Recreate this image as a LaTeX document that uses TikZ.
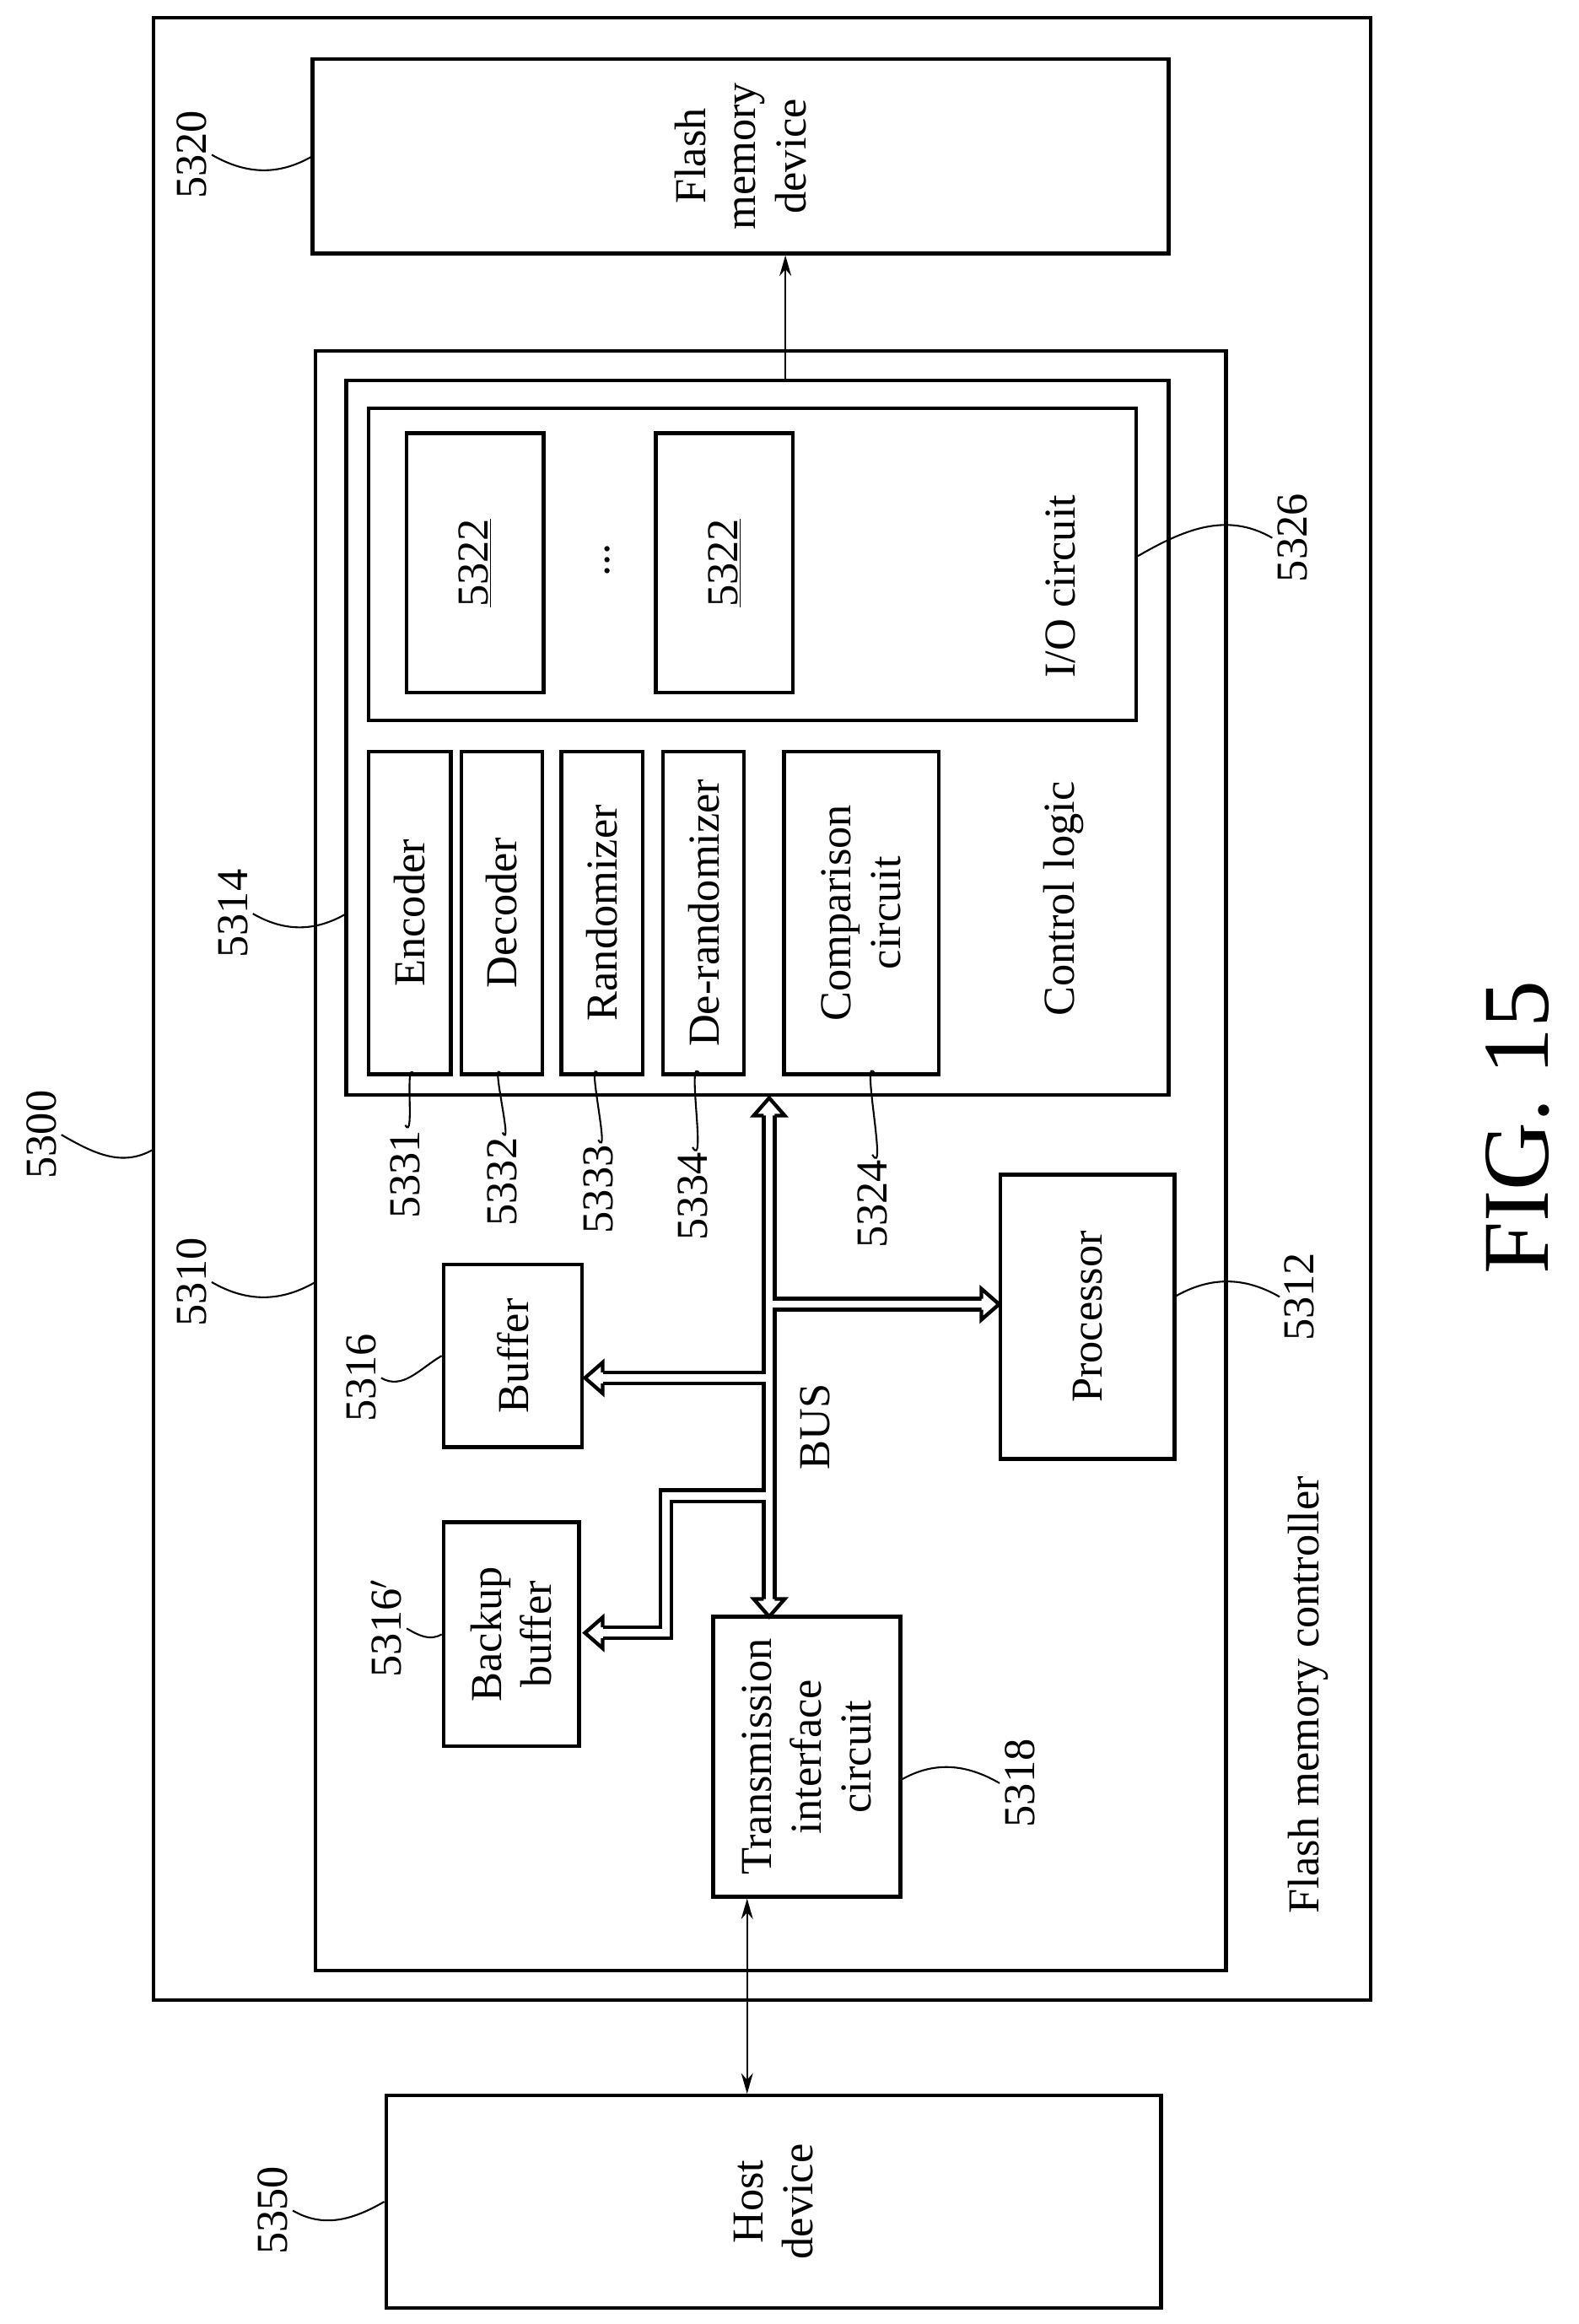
\documentclass[tikz,border=0pt]{standalone}
\usepackage{fontspec}
\setmainfont{Liberation Serif}
\usepackage{tikz}
\usetikzlibrary{arrows.meta}

\tikzset{
  lbl/.style={rotate=90, font=\fontsize{30}{34}\selectfont, align=center},
  box/.style={lbl, draw, line width=2.5pt, inner sep=0pt},
  num/.style={rotate=90, font=\fontsize{30}{34}\selectfont},
  lead/.style={line width=1.2pt},
}
% hollow bus head: tip (x,y), direction (dx,dy)
\newcommand{\bushead}[4]{%
  \fill[white] ({#1-12*#3-3.75*#4},{#2-12*#4+3.75*#3}) -- ({#1-12*#3-10.5*#4},{#2-12*#4+10.5*#3})
    -- (#1,#2) -- ({#1-12*#3+10.5*#4},{#2-12*#4-10.5*#3}) -- ({#1-12*#3+3.75*#4},{#2-12*#4-3.75*#3}) -- cycle;
  \draw[line width=2.5pt, line join=miter] ({#1-12*#3-3.75*#4},{#2-12*#4+3.75*#3}) -- ({#1-12*#3-10.5*#4},{#2-12*#4+10.5*#3})
    -- (#1,#2) -- ({#1-12*#3+10.5*#4},{#2-12*#4-10.5*#3}) -- ({#1-12*#3+3.75*#4},{#2-12*#4-3.75*#3});}

\begin{document}
\begin{tikzpicture}[x=1pt, y=-1pt]
    \useasboundingbox (0,0) rectangle (1071,1577);

    % Outer boxes
    \draw[line width=2.5pt] (104,12) rectangle (930,1357);
    \node[box, minimum width=132, minimum height=581] (flash) at (502.5,106) {Flash\\memory\\device};
    \node[box, minimum width=1099, minimum height=618] (ctrl) at (523,787.5) {};
    \node[box, minimum width=485, minimum height=558] (ctl) at (514,500.5) {};
    \node[box, minimum width=212, minimum height=521] (io) at (510.5,383) {};
    \node[box, minimum width=144, minimum height=526] (host) at (525,1494) {Host\\device};

    % I/O circuit
    \node[box, minimum width=176, minimum height=93] (p1) at (322.5,382) {\underline{5322}};
    \node[box, minimum width=176, minimum height=93] (p2) at (491.5,382) {\underline{5322}};
    \node[lbl] (dots) at (412,380) {...};
    \node[lbl] (iot) at (720,398) {I/O circuit};

    % Control logic blocks
    \node[box, minimum width=219, minimum height=56] (enc) at (278,619.5) {Encoder};
    \node[box, minimum width=219, minimum height=55] (dec) at (340.5,619.5) {Decoder};
    \node[box, minimum width=219, minimum height=55] (rnd) at (408.5,619.5) {Randomizer};
    \node[box, minimum width=219, minimum height=55] (der) at (477.5,619.5) {De-randomizer};
    \node[box, minimum width=219, minimum height=105] (cmp) at (584.5,619.5) {Comparison\\circuit};
    \node[lbl] (ctlt) at (722,610) {Control logic};

    % Controller blocks
    \node[box, minimum width=124, minimum height=94] (buf) at (348,920) {Buffer};
    \node[box, minimum width=152, minimum height=92] (bbuf) at (347,1109) {Backup\\buffer};
    \node[box, minimum width=193, minimum height=118] (proc) at (738,893.5) {Processor};
    \node[box, minimum width=190, minimum height=127] (trans) at (547.5,1192) {Transmission\\interface\\circuit};
    \node[lbl] (bus) at (553,968) {BUS};
    \node[lbl] (fmc) at (888,1150) {Flash memory controller};
    \node[rotate=90, font=\fontsize{64}{70}\selectfont] (fig) at (1030,765) {FIG. 15};

    % Bus
    \foreach \c in {black, white} {
        \ifx\c\empty\fi
    }
    \draw[line width=10pt] (522,757) -- (522,1085);
    \draw[line width=10pt] (522,935) -- (409,935);
    \draw[line width=10pt] (522,885) -- (666,885);
    \draw[line width=10pt, line join=miter] (522,1015) -- (452,1015) -- (452,1108) -- (409,1108);
    \draw[white, line width=5pt] (522,757) -- (522,1085);
    \draw[white, line width=5pt] (522,935) -- (409,935);
    \draw[white, line width=5pt] (522,885) -- (666,885);
    \draw[white, line width=5pt, line join=miter] (522,1015) -- (452,1015) -- (452,1108) -- (409,1108);
    \bushead{522}{745}{0}{-1}
    \bushead{522}{1097}{0}{1}
    \bushead{397}{935}{-1}{0}
    \bushead{397}{1108}{-1}{0}
    \bushead{678}{885}{1}{0}

    % Connectors
    \coordinate (iox) at (533,0);
    \coordinate (hx) at (507,0);
    \draw[line width=1.2pt, -{Stealth[length=14pt,width=8pt]}] (ctl.east -| iox) -- (flash.west -| iox);
    \draw[line width=1.2pt, {Stealth[length=14pt,width=8pt]}-{Stealth[length=14pt,width=8pt]}] (trans.west -| hx) -- (host.east -| hx);

    % Reference numbers
    \node[num] (n5320) at (130,105) {5320};
    \node[num] (n5300) at (28,770) {5300};
    \node[num] (n5310) at (130,870) {5310};
    \node[num] (n5314) at (158,620) {5314};
    \node[num] (n5316) at (245,935) {5316};
    \node[num] (n5316b) at (262,1105) {5316$'$};
    \node[num] (n5318) at (692,1210) {5318};
    \node[num] (n5312) at (882,880) {5312};
    \node[num] (n5326) at (877,365) {5326};
    \node[num] (n5331) at (275,797) {5331};
    \node[num] (n5332) at (341,802) {5332};
    \node[num] (n5333) at (406,807) {5333};
    \node[num] (n5334) at (470,812) {5334};
    \node[num] (n5324) at (592,817) {5324};
    \node[num] (n5350) at (185,1500) {5350};

    % Leaders
    \draw[lead] (n5320.south) to[out=-30,in=210] (flash.north -| 212,0);
    \draw[lead] (n5300.south) to[out=-30,in=210] (104,780);
    \draw[lead] (n5310.south) to[out=-30,in=210] (214,870);
    \draw[lead] (n5314.south) to[out=-30,in=210] (235,620);
    \draw[lead] (n5316.south) to[out=-30,in=210] (buf.north);
    \draw[lead] (n5316b.south) to[out=-30,in=210] (bbuf.north);
    \draw[lead] (n5318.north) to[out=150,in=30] (611,1208);
    \draw[lead] (n5312.north) to[out=150,in=30] (797,880);
    \draw[lead] (n5326.north) to[out=150,in=30] (771,378);
    \draw[lead] (n5331.east) to[out=-60,in=120] (281,729);
    \draw[lead] (n5332.east) to[out=-60,in=120] (340,729);
    \draw[lead] (n5333.east) to[out=-60,in=120] (406,729);
    \draw[lead] (n5334.east) to[out=-60,in=120] (475,729);
    \draw[lead] (n5324.east) to[out=-60,in=120] (594,729);
    \draw[lead] (n5350.south) to[out=-30,in=210] (host.north);
\end{tikzpicture}
\end{document}
